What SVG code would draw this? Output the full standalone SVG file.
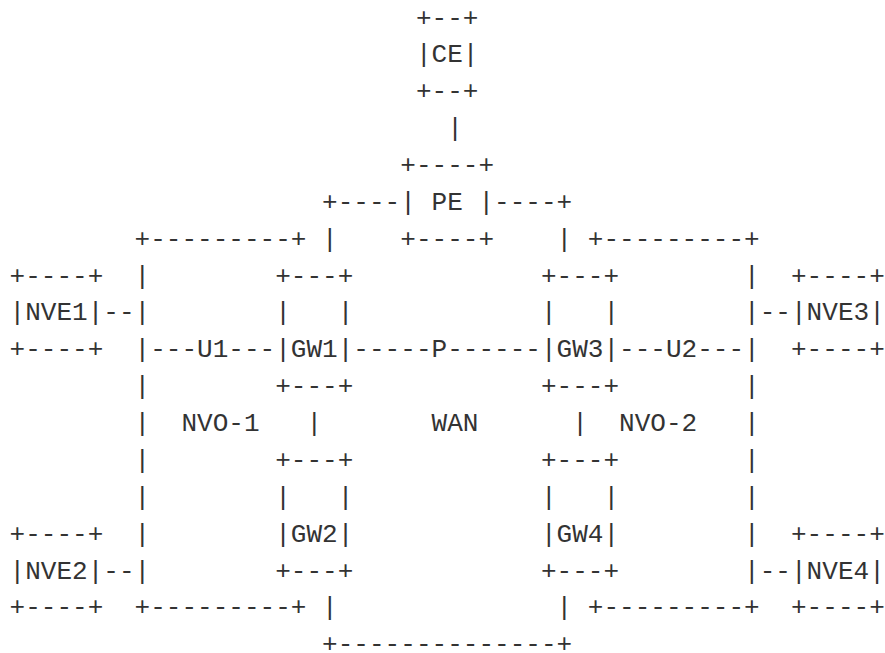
<svg xmlns="http://www.w3.org/2000/svg" width="885" height="653" viewBox="0 0 885 653" xml:space="preserve">
<style>
text { font-family: "Liberation Mono", "DejaVu Sans Mono", monospace; font-size: 26.05px; fill: #333333; white-space: pre; }
</style>
<rect width="885" height="653" fill="#ffffff"/>
<g id="connectors">
<text x="447.14" y="136.11">|</text>
<text x="322.1" y="209.85">+----</text>
<text x="494.03" y="209.85">----+</text>
<text x="322.1" y="246.72">|</text>
<text x="556.55" y="246.72">|</text>
<text x="103.28" y="320.46">--</text>
<text x="759.74" y="320.46">--</text>
<text x="150.17" y="357.33">---U1---</text>
<text x="353.36" y="357.33">-----P------</text>
<text x="619.07" y="357.33">---U2---</text>
<text x="306.47" y="431.07">|</text>
<text x="572.18" y="431.07">|</text>
<text x="103.28" y="578.55">--</text>
<text x="759.74" y="578.55">--</text>
<text x="322.1" y="615.42">|</text>
<text x="556.55" y="615.42">|</text>
<text x="322.1" y="652.29">+--------------+</text>
</g>
<g id="ce">
<text x="415.88" y="25.5">+--+</text>
<text x="415.88" y="62.37">|CE|</text>
<text x="415.88" y="99.24">+--+</text>
</g>
<g id="pe">
<text x="400.25" y="172.98">+----+</text>
<text x="400.25" y="209.85">| PE |</text>
<text x="400.25" y="246.72">+----+</text>
</g>
<g id="nvo1">
<text x="134.54" y="246.72">+---------+</text>
<text x="134.54" y="283.59">|</text>
<text x="134.54" y="320.46">|</text>
<text x="134.54" y="357.33">|</text>
<text x="134.54" y="394.2">|</text>
<text x="134.54" y="431.07">|</text>
<text x="134.54" y="467.94">|</text>
<text x="134.54" y="504.81">|</text>
<text x="134.54" y="541.68">|</text>
<text x="134.54" y="578.55">|</text>
<text x="134.54" y="615.42">+---------+</text>
<text x="181.43" y="431.07">NVO-1</text>
</g>
<g id="nvo2">
<text x="587.81" y="246.72">+---------+</text>
<text x="744.11" y="283.59">|</text>
<text x="744.11" y="320.46">|</text>
<text x="744.11" y="357.33">|</text>
<text x="744.11" y="394.2">|</text>
<text x="744.11" y="431.07">|</text>
<text x="744.11" y="467.94">|</text>
<text x="744.11" y="504.81">|</text>
<text x="744.11" y="541.68">|</text>
<text x="744.11" y="578.55">|</text>
<text x="587.81" y="615.42">+---------+</text>
<text x="619.07" y="431.07">NVO-2</text>
</g>
<g id="wan">
<text x="431.51" y="431.07">WAN</text>
</g>
<g id="nve1">
<text x="9.5" y="283.59">+----+</text>
<text x="9.5" y="320.46">|NVE1|</text>
<text x="9.5" y="357.33">+----+</text>
</g>
<g id="nve2">
<text x="9.5" y="541.68">+----+</text>
<text x="9.5" y="578.55">|NVE2|</text>
<text x="9.5" y="615.42">+----+</text>
</g>
<g id="nve3">
<text x="790.99" y="283.59">+----+</text>
<text x="790.99" y="320.46">|NVE3|</text>
<text x="790.99" y="357.33">+----+</text>
</g>
<g id="nve4">
<text x="790.99" y="541.68">+----+</text>
<text x="790.99" y="578.55">|NVE4|</text>
<text x="790.99" y="615.42">+----+</text>
</g>
<g id="gw1">
<text x="275.21" y="283.59">+---+</text>
<text x="275.21" y="320.46">|   |</text>
<text x="275.21" y="357.33">|GW1|</text>
<text x="275.21" y="394.2">+---+</text>
</g>
<g id="gw3">
<text x="540.92" y="283.59">+---+</text>
<text x="540.92" y="320.46">|   |</text>
<text x="540.92" y="357.33">|GW3|</text>
<text x="540.92" y="394.2">+---+</text>
</g>
<g id="gw2">
<text x="275.21" y="467.94">+---+</text>
<text x="275.21" y="504.81">|   |</text>
<text x="275.21" y="541.68">|GW2|</text>
<text x="275.21" y="578.55">+---+</text>
</g>
<g id="gw4">
<text x="540.92" y="467.94">+---+</text>
<text x="540.92" y="504.81">|   |</text>
<text x="540.92" y="541.68">|GW4|</text>
<text x="540.92" y="578.55">+---+</text>
</g>
</svg>
